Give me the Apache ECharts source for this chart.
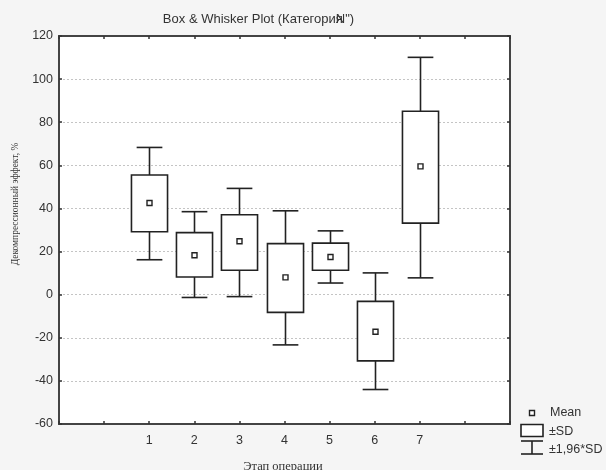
<!DOCTYPE html>
<html><head><meta charset="utf-8">
<script src="https://cdn.jsdelivr.net/npm/echarts@6/dist/echarts.min.js"></script>
<style>html,body{margin:0;padding:0;background:#f5f5f5;}#c{width:606px;height:470px;}</style>
</head><body><div id="c"></div>
<script>
var categories = [1, 2, 3, 4, 5, 6, 7];
var means  = [42.5, 18.3, 24.8, 8.0, 17.5, -17.2, 59.5];
var sdLow  = [29.2, 8.2, 11.3, -8.2, 11.3, -30.7, 33.2];
var sdHigh = [55.5, 28.8, 37.1, 23.7, 23.9, -3.1, 85.1];
var ciLow  = [16.2, -1.3, -0.9, -23.3, 5.4, -44.0, 7.8];
var ciHigh = [68.3, 38.5, 49.3, 38.9, 29.6, 10.1, 110.1];
var yTicks = [-60, -40, -20, 0, 20, 40, 60, 80, 100, 120];
var titleA = 'Box & Whisker Plot (Категория';
var titleB = 'N")';
var xName = 'Этап операции';
var yName = 'Декомпрессионный эффект, %';
var legendLabels = ['Mean', '±SD', '±1,96*SD'];

var data = categories.map(function (c, i) {
  return [c, ciLow[i], sdLow[i], means[i], sdHigh[i], ciHigh[i]];
});
var ink = '#222';
var chart = echarts.init(document.getElementById('c'));
var sans = '"Liberation Sans", Arial, sans-serif';
var serif = '"Liberation Serif", "Times New Roman", serif';

// measure title pieces to reproduce the overlapping glyphs
var ctx = document.createElement('canvas').getContext('2d');
var titleFont = '13px ' + sans;
ctx.font = titleFont;
var wA = ctx.measureText(titleA).width;
var wYa = ctx.measureText('я').width;
var wB = ctx.measureText(titleB).width;
var total = wA - wYa + wB;
var tx0 = 258.5 - total / 2;

function renderItem(params, api) {
  var x = api.value(0);
  var pLW = api.coord([x, api.value(1)]);
  var pLB = api.coord([x, api.value(2)]);
  var pM  = api.coord([x, api.value(3)]);
  var pHB = api.coord([x, api.value(4)]);
  var pHW = api.coord([x, api.value(5)]);
  var unit = api.size([1, 0])[0];
  var bw = unit * 0.8, cw = unit * 0.57;
  var cx = Math.round(pM[0]) + 0.5;
  var st = {stroke: ink, lineWidth: 1.6, fill: null};
  return {
    type: 'group',
    children: [
      {type: 'line', shape: {x1: cx, y1: pHW[1], x2: cx, y2: pHB[1]}, style: st},
      {type: 'line', shape: {x1: cx, y1: pLB[1], x2: cx, y2: pLW[1]}, style: st},
      {type: 'line', shape: {x1: cx - cw / 2, y1: pHW[1], x2: cx + cw / 2, y2: pHW[1]}, style: st},
      {type: 'line', shape: {x1: cx - cw / 2, y1: pLW[1], x2: cx + cw / 2, y2: pLW[1]}, style: st},
      {type: 'rect', shape: {x: cx - bw / 2, y: pHB[1], width: bw, height: pLB[1] - pHB[1]}, style: {stroke: ink, lineWidth: 1.6, fill: '#fff'}},
      {type: 'rect', shape: {x: cx - 2.5, y: pM[1] - 2.5, width: 5, height: 5}, style: {stroke: ink, lineWidth: 1.4, fill: '#fff'}}
    ]
  };
}

var tickCommon = {show: true, inside: true, length: 3, lineStyle: {color: '#333', width: 1.5}};
var lineCommon = {show: true, onZero: false, lineStyle: {color: '#444', width: 2}};
var legFont = '12.5px ' + sans;
chart.setOption({
  backgroundColor: '#f5f5f5',
  animation: false,
  grid: {left: 59, right: 96, top: 36, bottom: 46, containLabel: false, outerBoundsMode: 'none',
    show: true, backgroundColor: '#fff', borderColor: '#444', borderWidth: 2},
  xAxis: [{
    type: 'value', min: -1, max: 9, interval: 1, position: 'bottom',
    axisLine: lineCommon,
    axisTick: tickCommon,
    splitLine: {show: false},
    axisLabel: {fontFamily: sans, fontSize: 12.5, color: '#333', margin: 10,
      formatter: function (v) { return categories.indexOf(v) >= 0 ? String(v) : ''; }}
  }, {
    type: 'value', min: -1, max: 9, interval: 1, position: 'top',
    axisLine: lineCommon,
    axisTick: tickCommon, axisLabel: {show: false}, splitLine: {show: false}
  }],
  yAxis: [{
    type: 'value', min: yTicks[0], max: yTicks[yTicks.length - 1], interval: 20, position: 'left',
    axisLine: lineCommon,
    axisTick: tickCommon,
    splitLine: {show: true, lineStyle: {color: '#c4c4c4', type: [2, 2], width: 1}},
    axisLabel: {fontFamily: sans, fontSize: 12.5, color: '#333', margin: 6}
  }, {
    type: 'value', min: yTicks[0], max: yTicks[yTicks.length - 1], interval: 20, position: 'right',
    axisLine: lineCommon,
    axisTick: tickCommon, axisLabel: {show: false}, splitLine: {show: false}
  }],
  series: [{
    type: 'custom', xAxisIndex: 0, yAxisIndex: 0,
    renderItem: renderItem,
    encode: {x: 0, y: [1, 2, 3, 4, 5]},
    data: data, z: 5
  }],
  graphic: [
    {type: 'text', x: tx0, y: 19, style: {text: titleA, font: titleFont, fill: '#333', textVerticalAlign: 'middle'}},
    {type: 'text', x: tx0 + wA - wYa, y: 19, style: {text: titleB, font: titleFont, fill: '#333', textVerticalAlign: 'middle'}},
    {type: 'text', x: 283, y: 467, style: {text: xName, font: '12.5px ' + serif, fill: '#333', textAlign: 'center', textVerticalAlign: 'middle'}},
    {type: 'text', x: 15, y: 204, rotation: Math.PI / 2, scaleX: 0.86, style: {text: yName, font: '11px ' + serif, fill: '#333', textAlign: 'center', textVerticalAlign: 'middle'}},
    {type: 'rect', shape: {x: 529.5, y: 410.5, width: 5, height: 5}, style: {stroke: ink, lineWidth: 1.4, fill: '#fff'}},
    {type: 'text', x: 550, y: 413, style: {text: legendLabels[0], font: legFont, fill: '#333', textVerticalAlign: 'middle'}},
    {type: 'rect', shape: {x: 521, y: 424.5, width: 22, height: 12}, style: {stroke: ink, lineWidth: 1.6, fill: '#fff'}},
    {type: 'text', x: 549, y: 431.5, style: {text: legendLabels[1], font: legFont, fill: '#333', textVerticalAlign: 'middle'}},
    {type: 'line', shape: {x1: 521, y1: 441, x2: 543, y2: 441}, style: {stroke: ink, lineWidth: 1.6}},
    {type: 'line', shape: {x1: 521, y1: 454, x2: 543, y2: 454}, style: {stroke: ink, lineWidth: 1.6}},
    {type: 'line', shape: {x1: 532, y1: 441, x2: 532, y2: 454}, style: {stroke: ink, lineWidth: 1.6}},
    {type: 'text', x: 549, y: 449.5, style: {text: legendLabels[2], font: legFont, fill: '#333', textVerticalAlign: 'middle'}}
  ]
});
</script></body></html>
